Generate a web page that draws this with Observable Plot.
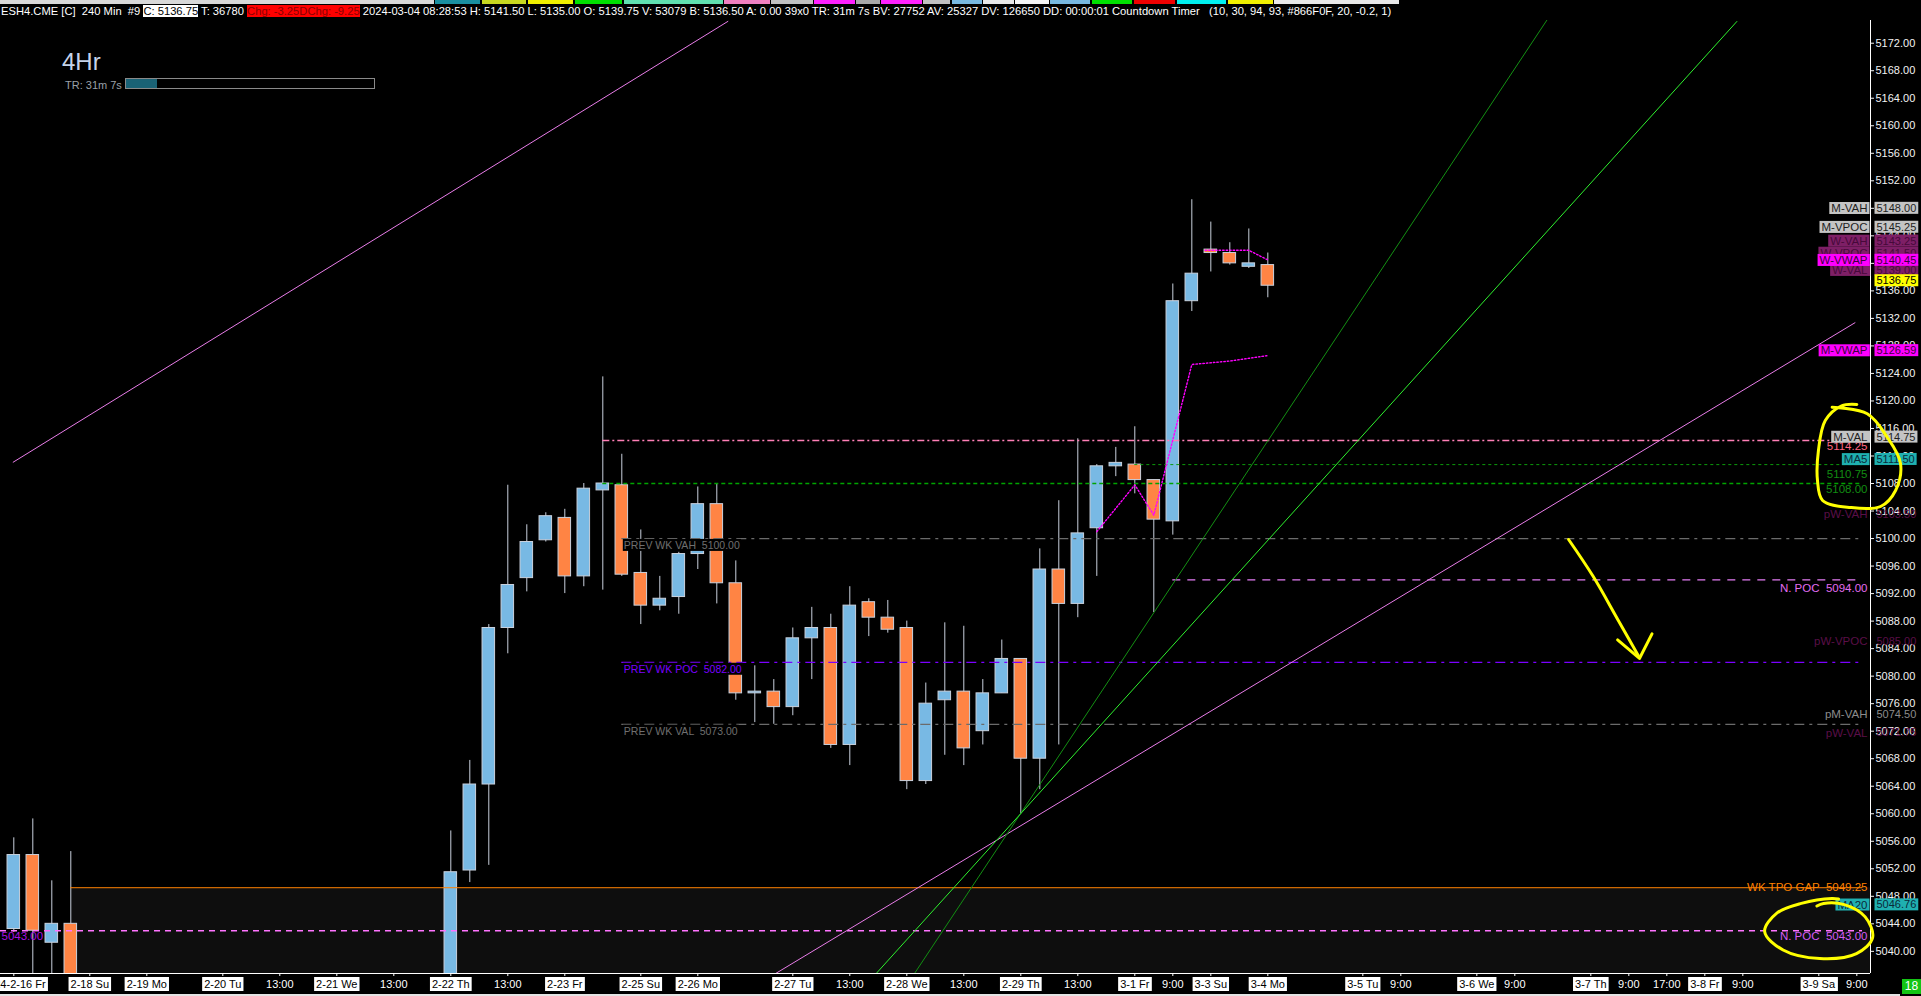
<!DOCTYPE html>
<html><head><meta charset="utf-8">
<script src="https://cdn.jsdelivr.net/npm/d3@7"></script>
<script src="https://cdn.jsdelivr.net/npm/@observablehq/plot@0.6"></script>
<style>
html,body{margin:0;padding:0;background:#000;overflow:hidden;width:1921px;height:996px;position:relative;}
#strip{position:absolute;left:0;top:0;height:4px;width:1921px;}
#strip div{position:absolute;top:0;height:4px;}
#hdr{position:absolute;left:1px;top:5px;height:15px;line-height:15px;font:11.2px "Liberation Sans",Arial,sans-serif;color:#fff;white-space:pre;}
#hdr .w{background:#fff;color:#000;display:inline-block;}
#hdr .r{background:#f00;color:#8a0000;display:inline-block;}
#chart{position:absolute;left:0;top:18px;}
svg text{white-space:pre;}
#tf{position:absolute;left:62px;top:50px;font:24px "Liberation Sans",Arial,sans-serif;line-height:24px;color:#c5d3ea;}
#tr{position:absolute;left:65px;top:80px;font:11px "Liberation Sans",Arial,sans-serif;line-height:11px;color:#9aa0a8;}
#bar{position:absolute;left:125px;top:78px;width:250px;height:11px;border:1px solid #8a8a8a;box-sizing:border-box;}
#bar div{position:absolute;left:0;top:0;height:9px;width:31px;background:#1a6275;}
#cnt{position:absolute;left:1902px;top:979px;width:19px;height:15px;background:#14c414;color:#fff;font:12px "Liberation Sans",Arial,sans-serif;line-height:15px;text-align:center;}
#foot{position:absolute;left:0;top:994px;width:1900px;height:2px;background:#e4e4e4;}
</style></head>
<body>
<div id="strip"></div>
<div id="hdr">ESH4.CME [C]  240 Min  #9 <span class="w">C: 5136.75</span> T: 36780 <span class="r">Chg: -3.25</span><span class="r">DChg: -9.25</span> 2024-03-04 08:28:53 H: 5141.50 L: 5135.00 O: 5139.75 V: 53079 B: 5136.50 A: 0.00 39x0 TR: 31m 7s BV: 27752 AV: 25327 DV: 126650 DD: 00:00:01 Countdown Timer   (10, 30, 94, 93, #866F0F, 20, -0.2, 1)</div>
<div id="chart"></div>
<div id="tf">4Hr</div>
<div id="tr">TR: 31m 7s</div>
<div id="bar"><div></div></div>
<div id="cnt">18</div>
<div id="foot"></div>
<script>
// ---------------- DATA ----------------
const candleIdx = [0,1,2,3,23,24,25,26,27,28,29,30,31,32,33,34,35,36,37,38,39,40,41,42,43,44,45,46,47,48,49,50,51,52,53,54,55,56,57,58,59,60,61,62,63,64,65,66];
const opens  = [5043.25,5054,5041.25,5044,5030,5051.75,5064.25,5087,5094.25,5099.75,5103,5094.5,5107,5107.75,5095,5090.25,5091.5,5097.75,5105,5093.5,5077.5,5077.75,5075.5,5085.5,5087,5070,5090.75,5088.5,5087,5064.75,5076.5,5077.75,5072,5077.5,5082.5,5068,5095.5,5090.5,5101.5,5110.5,5110.75,5108.5,5102.5,5134.5,5142,5141.5,5139.5,5139.75];
const highs  = [5056.5,5059.25,5050.25,5054.5,5057.5,5067.75,5087.5,5107.75,5102,5103.75,5104.25,5108,5123.5,5112.25,5101.25,5094.5,5098,5107.5,5108,5096.75,5081.5,5079.5,5087,5090,5089,5093,5091.25,5091,5088,5079,5087.75,5087.25,5079.5,5085.25,5082.5,5098.5,5105.5,5114.5,5110.75,5113.25,5116.25,5108.5,5137,5149.25,5146,5143,5145,5141.5];
const lows   = [5042.75,5036,5036,5035,5028,5050,5052.5,5083.25,5092.25,5099.5,5092,5093,5092.5,5094.5,5087.5,5089.5,5089,5095.5,5090.5,5076.5,5073.25,5073,5074.25,5079.5,5069.5,5067,5085.75,5086.25,5063.5,5064.25,5068.5,5067,5070,5077.5,5060,5063.5,5070,5088.5,5094.5,5109,5106.5,5089.25,5100.5,5133,5138.75,5139.75,5139.25,5135];
const closes = [5054,5043,5044,5036,5051.5,5064.25,5087,5093.25,5099.5,5103.25,5094.5,5107.25,5108,5094.75,5090.25,5091.25,5097.75,5105,5093.5,5077.5,5077.75,5075.5,5085.5,5087,5070,5090.25,5088.5,5086.75,5064.75,5076,5077.75,5069.5,5077.5,5082.5,5068,5095.5,5090.5,5100.75,5110.5,5111,5108.5,5102.75,5134.5,5138.5,5141.5,5140,5140,5136.75];

const xTickIdx = [0,4,7,11,14,17,20,23,26,29,33,36,41,44,47,50,53,56,59,61,63,66,71,73,77,79,83,85,87,89,91,95,97];
const xTickLabels = ["2024-2-16 Fr","2-18 Su","2-19 Mo","2-20 Tu","13:00","2-21 We","13:00","2-22 Th","13:00","2-23 Fr","2-25 Su","2-26 Mo","2-27 Tu","13:00","2-28 We","13:00","2-29 Th","13:00","3-1 Fr","9:00","3-3 Su","3-4 Mo","3-5 Tu","9:00","3-6 We","9:00","3-7 Th","9:00","17:00","3-8 Fr","9:00","3-9 Sa","9:00"];
const yTicks = d3.range(5040, 5173, 4);

const levelPrice = [5114.25, 5110.75, 5108.00, 5100.00, 5094.00, 5082.00, 5073.00, 5049.25, 5043.00];
const levelFrom  = [31, 59, 31, 32, 61, 32, 32, 3, -0.7];
const levelKind  = ["mval","ma5","green","prevVA","npoc","prevPOC","prevVA","gap","npocB"];

const prevLabels = ["PREV WK VAH  5100.00","PREV WK POC  5082.00","PREV WK VAL  5073.00"];
const prevPrices = [5100.00, 5082.00, 5073.00];

const boxName  = ["M-VAH","M-VPOC","W-VAH","W-VPOC","W-VAL","W-VWAP","","M-VWAP","M-VAL","MA5","MA20"];
const boxValue = [5148.00,5145.25,5143.25,5141.50,5139.00,5140.45,5136.75,5126.59,5114.75,5111.50,5046.76];
const boxKind  = ["month","month","week","week","week","vwap","last","vwapM","month","ma","ma"];

const tagName  = ["","","","pW-VAH","N. POC","pW-VPOC","pM-VAH","pW-VAL","WK TPO GAP","N. POC"];
const tagValue = [5114.25,5110.75,5108.00,5103.50,5094.00,5085.00,5074.50,5071.75,5049.25,5043.00];
const tagKind  = ["mvalLine","green2","green","pw","npoc","pw","pm","pw","gap","npocB"];

const trendI1 = [-0.05, 40.05, 47.0, 45.2];
const trendP1 = [5111.07, 5036.7, 5035.1, 5036.2];
const trendI2 = [37.6, 96.92, 80.7, 90.7];
const trendP2 = [5175.2, 5131.4, 5175.4, 5175.2];
const trendKind = ["pink","pink","dkgreen","green"];

const mvwapI = [57, 59, 60, 62, 64, 66];
const mvwapP = [5101.0, 5107.8, 5103.4, 5125.3, 5125.8, 5126.6];
const wvwapI = [62.7, 65, 66];
const wvwapP = [5141.9, 5141.9, 5140.5];

// hand-drawn yellow annotations (index, price)
const circ1I = [95.70,97.55,98.6,99.3,99.04,98.25,96.67,95.2,94.93,94.98,95.34,96.2,97.0];
const circ1P = [5119.09,5118.13,5114.73,5110.91,5106.99,5104.66,5104.51,5105.53,5108.44,5112.8,5117.16,5119.3,5119.5];
const circ2I = [96.04,95.69,94.08,92.79,92.15,93.12,95.05,96.98,97.83,97.44,96.34,95.25,94.9];
const circ2P = [5047.6,5047.68,5046.97,5045.55,5042.87,5040.2,5038.96,5039.67,5041.99,5045.01,5046.8,5046.97,5046.6];
const arrowI = [81.83,83.12,84.41,85.51];
const arrowP = [5099.86,5094.51,5088.28,5082.94];
const headI = [84.41,85.56,86.22];
const headP = [5085.26,5082.57,5086.14];

// ---------------- BUILD ----------------
const W = 1921, H = 978;
const xDom = [-0.7, 97.72], yDom = [5036.78, 5175.3];
const lineEnd = 97.3;
const FONT = '"Liberation Sans", Arial, sans-serif';

const candles = candleIdx.map((i,k)=>({i, o:opens[k], h:highs[k], l:lows[k], c:closes[k]}));
const levels = levelPrice.map((p,k)=>({p, from:levelFrom[k], kind:levelKind[k]}));
const trends = trendI1.map((v,k)=>({x1:v, y1:trendP1[k], x2:trendI2[k], y2:trendP2[k], kind:trendKind[k]}));
const zip = (a,b)=>a.map((v,k)=>({x:v, y:b[k]}));
const xLabels = xTickIdx.map((i,k)=>({i, t:xTickLabels[k], date:/ (Su|Mo|Tu|We|Th|Fr|Sa)$/.test(xTickLabels[k])}));

const levelStyle = {
  mval:{stroke:"#ff7fb6", dash:"7,3,2,3", w:1.6},
  ma5:{stroke:"#0c9a0c", dash:"3,3", w:1},
  green:{stroke:"#00a400", dash:"4,3", w:1.6},
  prevVA:{stroke:"#6b6b6b", dash:"10,5,3,5", w:1.3},
  npoc:{stroke:"#e47cf4", dash:"8,7", w:1.3},
  prevPOC:{stroke:"#7b00ff", dash:"10,5,3,5", w:1.3},
  gap:{stroke:"#ff8000", dash:null, w:1},
  npocB:{stroke:"#ff74ff", dash:"6,5", w:1.6}
};
const trendColor = {pink:"#e87de8", dkgreen:"#138f13", green:"#2ef02e"};
const boxStyle = {
  month:{bg:"#c4c4c4", fg:"#1e1e1e", dy:0},
  week:{bg:"#7e1f66", fg:"#46093a", dy:0},
  vwap:{bg:"#ff00ff", fg:"#3c003c", dy:0},
  vwapM:{bg:"#ff00ff", fg:"#3c003c", dy:-5},
  last:{bg:"#ffff00", fg:"#000", dy:-5},
  ma:{bg:"#1fb0b0", fg:"#0a2a3a", dy:0}
};
const tagStyle = {
  mvalLine:{fg:"#ff6680", dy:6, axis:false},
  green2:{fg:"#128c12", dy:10, axis:false},
  green:{fg:"#128c12", dy:6, axis:false},
  pw:{fg:"#5a0f48", dy:0, axis:true},
  npoc:{fg:"#e36cf0", dy:8, axis:false},
  pm:{fg:"#8c8c8c", dy:0, axis:true},
  gap:{fg:"#ff8000", dy:0, axis:false},
  npocB:{fg:"#d55cf5", dy:6, axis:false}
};

const marks = [];
// TPO gap band
const gapLevel = levels.find(d=>d.kind==="gap");
marks.push(Plot.rect([gapLevel], {x1:"from", x2:()=>xDom[1], y1:()=>yDom[0], y2:"p", fill:"#0e0e0e"}));
// candles
marks.push(Plot.ruleX(candles, {x:"i", y1:"l", y2:"h", stroke:"#c9d1dd", strokeWidth:1, clip:true}));
marks.push(Plot.rect(candles, {x1:d=>d.i-0.33, x2:d=>d.i+0.33, y1:"o", y2:"c",
  fill:d=>d.c>=d.o?"#78b9e4":"#ff8444", stroke:"#c9d1dd", strokeWidth:1, clip:true}));
// level lines
for (const d of levels) {
  const s = levelStyle[d.kind];
  marks.push(Plot.ruleY([d], {y:"p", x1:"from", x2:()=>lineEnd, stroke:s.stroke, strokeWidth:s.w, strokeDasharray:s.dash||undefined, clip:true}));
}
// trend lines
for (const d of trends) {
  marks.push(Plot.link([d], {x1:"x1", y1:"y1", x2:"x2", y2:"y2", stroke:trendColor[d.kind], strokeWidth:1, clip:true}));
}
// vwaps
marks.push(Plot.line(zip(mvwapI,mvwapP), {x:"x", y:"y", stroke:"#ff00ff", strokeWidth:1.4, strokeDasharray:"1.5,2", clip:true}));
marks.push(Plot.line(zip(wvwapI,wvwapP), {x:"x", y:"y", stroke:"#ff00ff", strokeWidth:1.4, strokeDasharray:"1.5,2", clip:true}));
// prev-week labels (black boxes)
prevLabels.forEach((t,k)=>{
  marks.push(Plot.text([{t, p:prevPrices[k]}], {x:()=>32, y:"p", text:"t", textAnchor:"start", dx:2, dy:7,
    fill: k===1 ? "#7b00ff" : "#6f6f6f", fontSize:10.5, ariaLabel:()=>"prevlab"}));
});
marks.push(Plot.text([{t:"5043.00", p:5043}], {x:()=>xDom[0], y:"p", text:"t", textAnchor:"start", dx:1, dy:6,
  fill:"#a810e0", fontSize:11.5}));
// y axis
marks.push(Plot.axisY({anchor:"right", ticks:yTicks, tickFormat:d=>d.toFixed(2), tickSize:3, tickPadding:2, color:"#f2f2f2", fontSize:11}));
marks.push(Plot.ruleX([xDom[1]], {stroke:"#ffffff", strokeWidth:1}));
marks.push(Plot.ruleY([yDom[0]], {stroke:"#ffffff", strokeWidth:1}));
// x axis ticks + labels
marks.push(Plot.axisX({anchor:"bottom", ticks:xTickIdx, tickFormat:()=>"", tickSize:3, color:"#ffffff"}));
marks.push(Plot.text(xLabels.filter(d=>!d.date), {x:"i", text:"t", frameAnchor:"bottom", dy:14.5, fill:"#ffffff", fontSize:11}));
marks.push(Plot.text(xLabels.filter(d=>d.date), {x:"i", text:"t", frameAnchor:"bottom", dy:14.5, fill:"#000000", fontSize:11, ariaLabel:()=>"datelab"}));
// text-only right tags
tagValue.forEach((v,k)=>{
  const s = tagStyle[tagKind[k]];
  const name = tagName[k];
  if (s.axis) {
    marks.push(Plot.text([{v}], {x:()=>xDom[1], y:"v", text:()=>name, textAnchor:"end", dx:-3, dy:s.dy, fill:s.fg, fontSize:11.5}));
    marks.push(Plot.text([{v}], {x:()=>xDom[1], y:"v", text:d=>d.v.toFixed(2), textAnchor:"start", dx:6, dy:s.dy, fill:s.fg, fontSize:11}));
  } else {
    const t = name ? name + "  " + v.toFixed(2) : v.toFixed(2);
    marks.push(Plot.text([{v}], {x:()=>xDom[1], y:"v", text:()=>t, textAnchor:"end", dx:-3, dy:s.dy, fill:s.fg, fontSize:11.5}));
  }
});
// boxed right labels
boxValue.forEach((v,k)=>{
  const s = boxStyle[boxKind[k]];
  const tag = "box-" + boxKind[k];
  if (boxName[k]) marks.push(Plot.text([{v}], {x:()=>xDom[1], y:"v", text:()=>boxName[k], textAnchor:"end", dx:-3, dy:s.dy, fill:s.fg, fontSize:11.5, ariaLabel:()=>tag}));
  marks.push(Plot.text([{v}], {x:()=>xDom[1], y:"v", text:d=>d.v.toFixed(2), textAnchor:"start", dx:6, dy:s.dy, fill:s.fg, fontSize:11, ariaLabel:()=>tag}));
});
// yellow hand annotations
const ann = {stroke:"#ffff00", strokeWidth:3, curve:"catmull-rom", strokeLinecap:"round", strokeLinejoin:"round"};
marks.push(Plot.line(zip(circ1I,circ1P), {x:"x", y:"y", ...ann}));
marks.push(Plot.line(zip(circ2I,circ2P), {x:"x", y:"y", ...ann}));
marks.push(Plot.line(zip(arrowI,arrowP), {x:"x", y:"y", ...ann}));
marks.push(Plot.line(zip(headI,headP), {x:"x", y:"y", ...ann, curve:"linear"}));

const svg = Plot.plot({
  width:W, height:H,
  marginLeft:0, marginRight:51, marginTop:2, marginBottom:23,
  x:{type:"linear", domain:xDom, axis:null},
  y:{type:"linear", domain:yDom, axis:null},
  style:{background:"#000", color:"#fff", fontFamily:FONT, fontSize:"11px", overflow:"visible"},
  marks
});
document.getElementById("chart").appendChild(svg);

// background boxes behind label texts
const NS = "http://www.w3.org/2000/svg";
function boxBehind(t, fill, px, py) {
  const b = t.getBBox();
  const r = document.createElementNS(NS, "rect");
  r.setAttribute("x", b.x - px); r.setAttribute("y", b.y - py);
  r.setAttribute("width", b.width + 2*px); r.setAttribute("height", b.height + 2*py);
  r.setAttribute("fill", fill);
  const tr = t.getAttribute("transform"); if (tr) r.setAttribute("transform", tr);
  t.parentNode.insertBefore(r, t);
}
svg.querySelectorAll('text[aria-label="prevlab"]').forEach(t=>boxBehind(t, "#000", 1, 0));
for (const kind of Object.keys(boxStyle)) {
  svg.querySelectorAll(`text[aria-label="box-${kind}"]`).forEach(t=>boxBehind(t, boxStyle[kind].bg, 2, 0));
}
svg.querySelectorAll('text[aria-label="datelab"]').forEach(t=>boxBehind(t, "#ffffff", 2, 1));

// top colour strip (toolbar edge)
const stripCols = [[0,435,"#d8d8d8"],[435,481,"#1a8fa0"],[482,527,"#c8d820"],[528,574,"#f0f000"],[575,623,"#00e000"],[624,724,"#60e0b0"],[724,771,"#f080c0"],[771,814,"#c0c0c0"],[814,856,"#ff20ff"],[856,881,"#a8a8a8"],[881,923,"#ff20ff"],[923,951,"#c0c0c0"],[952,983,"#78b8e0"],[983,1015,"#e8e8e8"],[1015,1050,"#f4f4f4"],[1050,1091,"#78b8e0"],[1092,1133,"#00e000"],[1134,1176,"#f00000"],[1177,1227,"#00f0f0"],[1228,1274,"#f0f000"],[1274,1400,"#e8e8e8"]];
const strip = document.getElementById("strip");
stripCols.forEach(([a,b,c])=>{const d=document.createElement("div");d.style.left=a+"px";d.style.width=(b-a-1)+"px";d.style.background=c;strip.appendChild(d);});
</script>
</body></html>
